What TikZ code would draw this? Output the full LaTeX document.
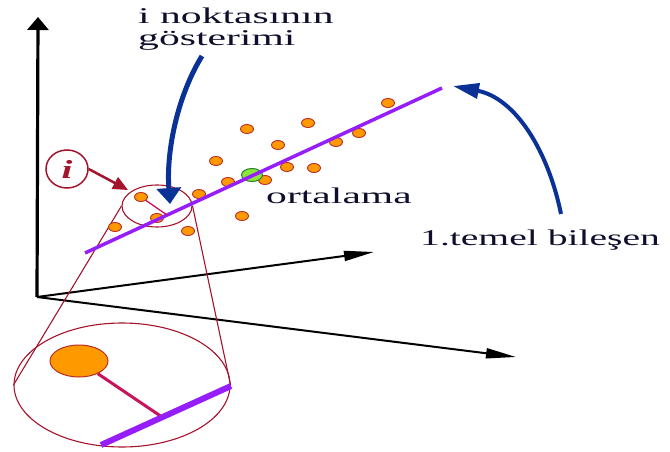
\documentclass[tikz,border=0pt]{standalone}
\usepackage{fontspec}
\setmainfont{Liberation Serif}
\usetikzlibrary{arrows.meta,shapes.geometric}
\definecolor{txt}{RGB}{15,15,45}
\definecolor{dred}{RGB}{165,20,45}
\definecolor{navy}{RGB}{10,50,150}
\definecolor{violet}{RGB}{150,30,250}
\definecolor{crim}{RGB}{200,20,90}
\definecolor{orng}{RGB}{255,153,0}
\definecolor{ored}{RGB}{185,45,40}
\definecolor{lgreen}{RGB}{140,230,60}
\definecolor{dgreen}{RGB}{40,130,40}
\newcommand{\sx}[1]{\scalebox{1.85}[1]{#1}}
\tikzset{
  lbl/.style={inner sep=0pt, anchor=base west, text=txt, font=\fontsize{22.5}{24}\selectfont},
  dot/.style={ellipse, draw=ored, fill=orng, line width=0.9pt, minimum width=13pt, minimum height=9pt, inner sep=0pt},
  meanpt/.style={ellipse, draw=dgreen, fill=lgreen, line width=1pt, minimum width=21pt, minimum height=13pt, inner sep=0pt},
  axis/.style={black, line width=2pt, -{Triangle[length=30pt,width=10pt]}},
  ring/.style={ellipse, draw=dred, line width=1.1pt, inner sep=0pt},
}
\begin{document}
\begin{tikzpicture}[x=1pt,y=-1pt]
\useasboundingbox (0,0) rectangle (670,452);
% axes
\coordinate (O) at (37,297);
\coordinate (ay) at (38,17);
\coordinate (a2) at (374,252);
\coordinate (a3) at (516,357);
\draw[black, line width=3.2pt, -{Triangle[length=13pt,width=21pt]}] (O) -- (ay);
\draw[axis] (O) -- (a2);
\draw[axis] (O) -- (a3);
% zoom ellipses and tangents
\node[ring, minimum width=70pt, minimum height=42pt] (zc) at (157,206) {};
\node[ring, minimum width=216pt, minimum height=124pt] (zb) at (122,385) {};
\draw[dred, line width=1.1pt] (zc.west) -- (zb.west);
\draw[dred, line width=1.1pt] (zc.east) -- (zb.east);
% data points
\foreach \n/\x/\y in {d1/141/197, d2/157/218, d3/115/227, d4/188/231, d5/199/194,
  d6/228/182, d7/216/161, d8/247/129, d9/278/145, d10/308/123, d11/265/180,
  d12/287/167, d13/314/168, d14/336/142, d15/359/133, d16/388/103, d17/242/216}
  \node[dot] (\n) at (\x,\y) {};
\node[meanpt] (mean) at (252,175) {};
% principal component line
\coordinate (p1) at (85,253);
\coordinate (p2) at (442,88);
\draw[violet, line width=3.5pt] (p1) -- (p2);
% projection in small circle
\coordinate (f1) at (167,215);
\draw[crim, line width=1.3pt] (d1) -- (f1);
% inset
\node[dot, minimum width=58pt, minimum height=32pt, line width=1pt] (bd) at (79,361) {};
\coordinate (q1) at (101,445);
\coordinate (q2) at (231,386);
\coordinate (f2) at (162,417);
\draw[crim, line width=3pt] (bd) -- (f2);
\draw[violet, line width=6pt] (q1) -- (q2);
% labels
\node[lbl] (t1) at (138,24) {\sx{i noktasının}};
\node[lbl] (t2) at (138,46) {\sx{gösterimi}};
\node[lbl] (t3) at (266,203) {\sx{ortalama}};
\node[lbl] (t4) at (420,245) {\scalebox{1.76}[1]{1.temel bileşen}};
% circled i
\node[ring, line width=1.5pt, minimum width=42pt, minimum height=38pt, text=dred,
  font=\fontsize{26}{26}\selectfont\bfseries\itshape] (ci) at (67,169) {\scalebox{1.5}[1]{i}};
\coordinate (ct) at (128,190);
\draw[dred, line width=2.5pt, -{Triangle[length=15pt,width=13pt]}] (ci.east) -- (ct);
% blue arrows
\coordinate (b1s) at (202,56);
\coordinate (b1e) at (170,204);
\draw[navy, line width=5pt, -{Triangle[length=16pt,width=24pt]}]
  (b1s) .. controls (178,95) and (166,150) .. (b1e);
\coordinate (b2s) at (561,214);
\coordinate (b2e) at (453,86);
\draw[navy, line width=4pt, -{Triangle[length=26pt,width=15pt]}]
  (b2s) .. controls (548,150) and (515,98) .. (b2e);
\end{tikzpicture}
\end{document}
